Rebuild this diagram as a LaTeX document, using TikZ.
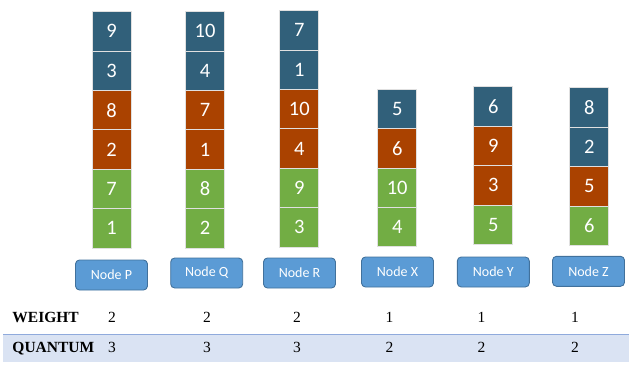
\documentclass[tikz,border=0pt]{standalone}
\usepackage{fontspec}
\setmainfont{Liberation Serif}
\newfontfamily\calfont{Carlito}
\usepackage{tikz}
\definecolor{cellt}{HTML}{31607A}
\definecolor{cello}{HTML}{AA4200}
\definecolor{cellg}{HTML}{72AD44}
\definecolor{btnblue}{HTML}{5B9BD5}
\definecolor{btnedge}{HTML}{41719C}
\definecolor{bandblue}{HTML}{DAE3F3}
\definecolor{bandline}{HTML}{8FAADC}

\begin{document}
\begin{tikzpicture}
[x=1pt,y=-1pt,
  cellbox/.style={shape=rectangle,minimum width=39pt,minimum height=39.4pt,
    inner sep=0pt,draw=white!88!black,line width=0.7pt,text=white,
    font=\calfont\fontsize{20.5}{24}\selectfont},%
  nodebtn/.style={shape=rectangle,rounded corners=4pt,fill=btnblue,draw=btnedge,
    line width=0.9pt,minimum width=72pt,minimum height=30pt,inner sep=0pt,
    text=white,font=\calfont\fontsize{14}{16}\selectfont},%
  tablabel/.style={anchor=base west,inner sep=0pt,font=\bfseries\fontsize{15.5}{18}\selectfont},%
  tabval/.style={anchor=base,inner sep=0pt,font=\fontsize{15.5}{18}\selectfont}]
\useasboundingbox (0,0) rectangle (639,374);
%% stacked cells, bottom up
\foreach \col/\x/\ybot/\cells in {P/111.5/248/{1/g,7/g,2/o,8/o,3/t,9/t},
  Q/205/248/{2/g,8/g,1/o,7/o,4/t,10/t}, R/299.3/247/{3/g,9/g,4/o,10/o,1/t,7/t},
  X/397.2/246.7/{4/g,10/g,6/o,5/t}, Y/493.2/244.3/{5/g,3/o,9/o,6/t},
  Z/589.3/245.3/{6/g,5/o,2/t,8/t}}
{
  \foreach \num/\clr [count=\i] in \cells
    \node (\col\i) at (\x,\ybot-\i*39.4+19.7) [cellbox,fill=cell\clr] {\num};
}
%% node buttons
\foreach \col/\x/\y in {P/111.5/275, Q/206.7/273, R/299.5/273,
  X/397.5/272, Y/493.3/272, Z/588.5/271.3}
{
  \node (btn\col) at (\x,\y) [nodebtn] {Node \col};
}
%% table
\fill[bandblue] (3.3,334.3) rectangle (629.3,362.3);
\draw[bandline,line width=1pt] (3.3,334.3) -- (629.3,334.3);
\node (weight) at (12.3,322.2) [tablabel] {WEIGHT};
\node (quantum) at (12.3,352) [tablabel] {QUANTUM};
\foreach \x/\w/\q [count=\i] in {112/2/3, 207/2/3, 297/2/3,
  389.5/1/2, 481.5/1/2, 575/1/2}
{
  \node (w\i) at (\x,322.2) [tabval] {\w};
  \node (q\i) at (\x,352) [tabval] {\q};
}
\end{tikzpicture}
\end{document}
